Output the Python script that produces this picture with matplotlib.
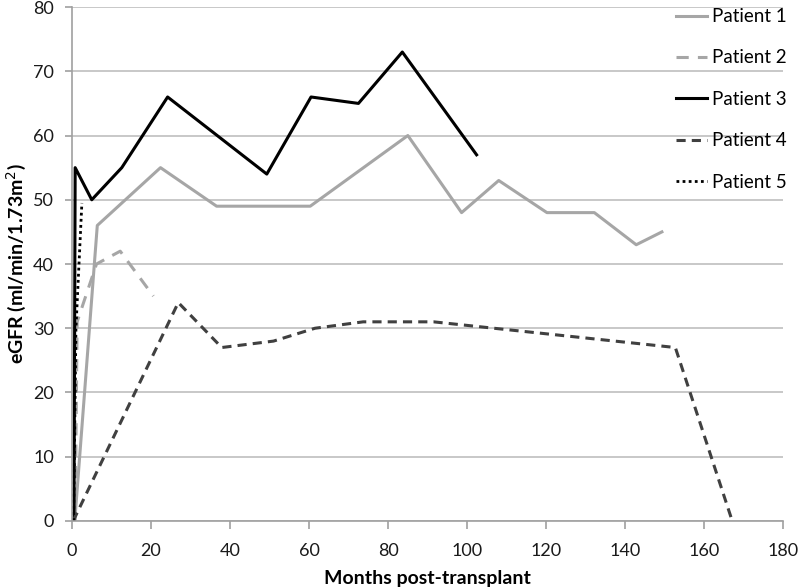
import matplotlib
matplotlib.use("Agg")
import matplotlib.pyplot as plt

plt.rcParams['font.family'] = ['Lato', 'DejaVu Sans']

# Data (months post-transplant, eGFR)
p1_x = [0.7, 6.4, 22.4, 36.6, 49, 60.3, 85, 98.6, 108, 120.2, 132.2, 142.8, 149.3]
p1_y = [0, 46, 55, 49, 49, 49, 60, 48, 53, 48, 48, 43, 45]
p2_x = [0.8, 1.3, 6.2, 12.2, 20.6]
p2_y = [0, 31, 40, 42, 35]
p3_x = [0.5, 0.8, 5, 12.6, 24.2, 49.3, 60.5, 72.5, 83.6, 102.4]
p3_y = [0, 55, 50, 55, 66, 54, 66, 65, 73, 57]
p4_x = [0.3, 26.9, 37.9, 51, 61.5, 73.7, 91.5, 152.7, 167.1]
p4_y = [0, 34, 27, 28, 30, 31, 31, 27, 0]
p5_x = [0.4, 1.0, 2.5]
p5_y = [0, 30, 49.5]

labels = ["Patient 1", "Patient 2", "Patient 3", "Patient 4", "Patient 5"]
x_ticks = [0, 20, 40, 60, 80, 100, 120, 140, 160, 180]
y_ticks = [0, 10, 20, 30, 40, 50, 60, 70, 80]

fig = plt.figure(figsize=(8, 5.88), dpi=100)
ax = fig.add_axes([0.09, 0.114, 0.889, 0.874])

ax.plot(p1_x, p1_y, color="#a6a6a6", lw=2.2, ls="-", label=labels[0])
ax.plot(p2_x, p2_y, color="#a6a6a6", lw=2.2, ls=(0, (4, 3)), label=labels[1])
ax.plot(p3_x, p3_y, color="#000000", lw=2.2, ls="-", label=labels[2])
ax.plot(p4_x, p4_y, color="#404040", lw=2.2, ls=(0, (3, 2)), label=labels[3])
ax.plot(p5_x, p5_y, color="#000000", lw=2.0, ls=(0, (1, 1.2)), label=labels[4])

ax.set_xlim(0, 180)
ax.set_ylim(0, 80)
ax.set_xticks(x_ticks)
ax.set_yticks(y_ticks)
ax.yaxis.grid(True, color="#bfbfbf", lw=1.2)
ax.set_axisbelow(True)
for s in ["top", "right"]:
    ax.spines[s].set_visible(False)
for s in ["left", "bottom"]:
    ax.spines[s].set_color("#a0a0a0")
    ax.spines[s].set_linewidth(1.2)
ax.tick_params(axis="both", colors="#a0a0a0", labelcolor="#1a1a1a",
               labelsize=13, width=1.2, direction="out")
ax.tick_params(axis="x", length=6, pad=10)
ax.tick_params(axis="y", length=5, pad=8)

ax.set_xlabel("Months post-transplant", fontsize=14, fontweight="bold", labelpad=8)
ax.set_ylabel("eGFR (ml/min/1.73m$^{2}$)", fontsize=14, fontweight="bold", labelpad=4)

leg = ax.legend(loc="upper right", bbox_to_anchor=(0.993, 0.999),
                bbox_transform=fig.transFigure, frameon=False,
                fontsize=13.5, handlelength=1.7, handletextpad=0.25,
                labelspacing=1.3, borderaxespad=0)

fig.savefig("out.png", dpi=100)
